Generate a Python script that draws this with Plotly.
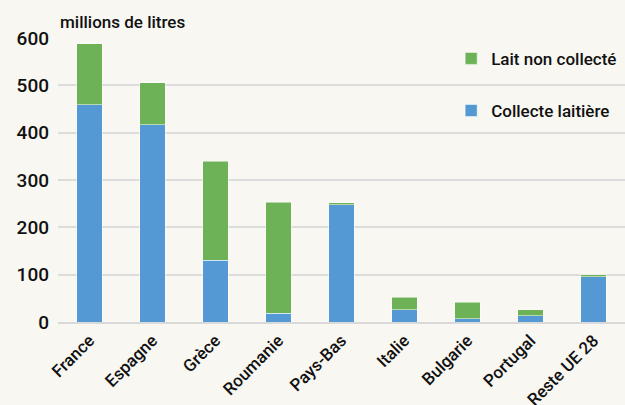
import plotly.graph_objects as go

categories = ["France", "Espagne", "Grèce", "Roumanie", "Pays-Bas", "Italie", "Bulgarie", "Portugal", "Reste UE 28"]
collecte = [459, 417, 130, 18, 248, 26, 7, 13, 96]
non_collecte = [129, 88, 210, 235, 4, 26, 35, 13, 4]
y_ticks = [0, 100, 200, 300, 400, 500, 600]

FONT = "Roboto, sans-serif"
BG = "#f8f7f2"

fig = go.Figure()
fig.add_trace(go.Bar(
    x=categories, y=collecte, name="Collecte laitière",
    marker=dict(color="#5499d3", line=dict(color="rgba(255,255,255,0.5)", width=1)),
    legendgroup="a", legendrank=2,
))
fig.add_trace(go.Bar(
    x=categories, y=non_collecte, name="Lait non collecté",
    marker=dict(color="#6db257", line=dict(color="rgba(255,255,255,0.5)", width=1)),
    legendgroup="b", legendrank=1,
))

fig.update_layout(
    barmode="stack",
    bargap=0.6,
    width=625, height=405,
    margin=dict(l=58, r=0, t=38, b=83, autoexpand=False),
    paper_bgcolor=BG, plot_bgcolor=BG,
    font=dict(family=FONT, size=17, color="#111", weight=500),
    showlegend=True,
    legend=dict(
        x=0.995, y=0.99, xanchor="right", yanchor="top",
        traceorder="grouped", tracegroupgap=27,
        bgcolor="rgba(0,0,0,0)", font=dict(family=FONT, size=17, color="#111", weight=500),
    ),
    annotations=[dict(
        text="millions de litres", xref="paper", yref="paper",
        x=0, y=1, xanchor="left", yanchor="bottom", yshift=4,
        showarrow=False, font=dict(family=FONT, size=17, color="#111", weight=500),
    )],
)
fig.update_xaxes(tickangle=-45, tickfont=dict(family=FONT, size=17, weight=500), showgrid=False,
                 showline=True, linecolor="#d9d9d9", linewidth=2, ticks="", automargin=False)
fig.update_yaxes(range=[0, 600], tickvals=y_ticks, tickfont=dict(family=FONT, size=19, weight=500),
                 showgrid=True, gridcolor="#dcdcdc", gridwidth=1.5, zeroline=False,
                 ticks="", ticklabelstandoff=8, automargin=False)

fig.write_html("out.html", config={"displayModeBar": False},
               post_script="document.body.style.margin='0';document.body.style.background='%s';" % BG)
